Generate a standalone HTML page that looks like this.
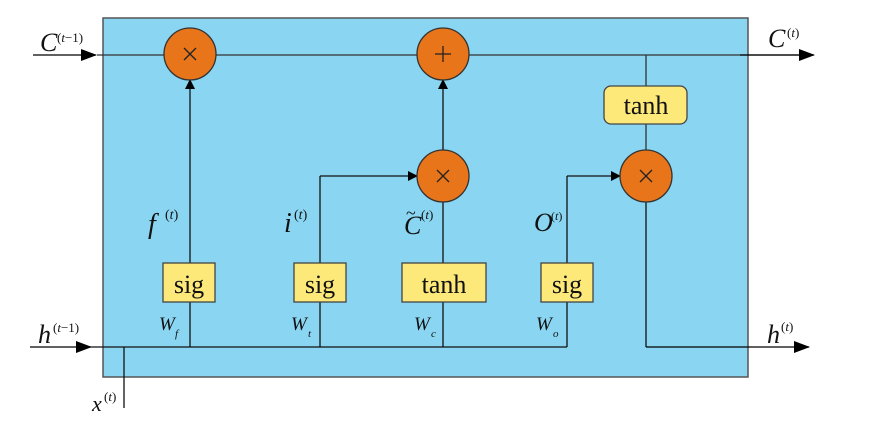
<!DOCTYPE html>
<html><head><meta charset="utf-8"><style>
html,body{margin:0;padding:0;background:#fff;}
svg{display:block;}
text{font-family:"Liberation Serif",serif;fill:#111;}
.it{font-style:italic;}
</style></head><body>
<svg width="876" height="430" viewBox="0 0 876 430" xmlns="http://www.w3.org/2000/svg">
<defs>
<marker id="a" markerWidth="10" markerHeight="10" refX="9" refY="5" orient="auto" markerUnits="userSpaceOnUse">
<path d="M0,0 L10,5 L0,10 Z" fill="#000"/></marker>
<marker id="b" markerWidth="16" markerHeight="12" refX="15" refY="6" orient="auto" markerUnits="userSpaceOnUse">
<path d="M0,0 L16,6 L0,12 Z" fill="#000"/></marker>
</defs>
<rect x="103" y="18" width="645" height="359" fill="#8AD6F2" stroke="#555" stroke-width="1.5"/>
<line x1="33" y1="55" x2="96" y2="55" stroke="#000" stroke-width="1.3" marker-end="url(#b)"/>
<line x1="97" y1="55" x2="800" y2="55" stroke="#333" stroke-width="1.3"/>
<line x1="740" y1="55" x2="814" y2="55" stroke="#000" stroke-width="1.3" marker-end="url(#b)"/>
<line x1="30" y1="347" x2="91" y2="347" stroke="#000" stroke-width="1.3" marker-end="url(#b)"/>
<line x1="91" y1="347" x2="567" y2="347" stroke="#111" stroke-width="1.3"/>
<line x1="124" y1="347" x2="124" y2="408" stroke="#111" stroke-width="1.3"/>
<line x1="190" y1="347" x2="190" y2="80" stroke="#111" stroke-width="1.3" marker-end="url(#a)"/>
<line x1="320" y1="347" x2="320" y2="176" stroke="#111" stroke-width="1.3"/>
<line x1="320" y1="176" x2="417" y2="176" stroke="#111" stroke-width="1.3" marker-end="url(#a)"/>
<line x1="443" y1="347" x2="443" y2="202" stroke="#111" stroke-width="1.3"/>
<line x1="443" y1="150" x2="443" y2="80" stroke="#111" stroke-width="1.3" marker-end="url(#a)"/>
<line x1="567" y1="347" x2="567" y2="176" stroke="#111" stroke-width="1.3"/>
<line x1="567" y1="176" x2="620" y2="176" stroke="#111" stroke-width="1.3" marker-end="url(#a)"/>
<line x1="646" y1="55" x2="646" y2="150" stroke="#333" stroke-width="1.3"/>
<line x1="646" y1="202" x2="646" y2="347" stroke="#111" stroke-width="1.3"/>
<line x1="646" y1="347" x2="809" y2="347" stroke="#000" stroke-width="1.3" marker-end="url(#b)"/>
<g fill="#E8751A" stroke="#333" stroke-width="1.3">
<circle cx="190" cy="54" r="26"/><circle cx="443" cy="54" r="26"/>
<circle cx="443" cy="176" r="26"/><circle cx="646" cy="176" r="26"/>
</g>
<g stroke="#222" stroke-width="1.3">
<path d="M184,48 L196,60 M196,48 L184,60"/>
<path d="M437,170 L449,182 M449,170 L437,182"/>
<path d="M640,170 L652,182 M652,170 L640,182"/>
<path d="M443,46 L443,62 M435,54 L451,54"/>
</g>
<g fill="#FCE97A" stroke="#444" stroke-width="1.3">
<rect x="163" y="263" width="52" height="39"/>
<rect x="294" y="263" width="52" height="39"/>
<rect x="402" y="263" width="84" height="39"/>
<rect x="541" y="263" width="52" height="39"/>
<rect x="604" y="86" width="83" height="38" rx="7"/>
</g>
<g font-size="26" text-anchor="middle">
<text x="189" y="293">sig</text><text x="320" y="293">sig</text>
<text x="444" y="293">tanh</text><text x="567" y="293">sig</text>
<text x="646" y="114">tanh</text>
</g>
<text x="40" y="51" font-size="26" class="it">C</text><text x="57" y="42" font-size="13">(<tspan class="it">t</tspan>−1)</text>
<text x="38" y="343" font-size="26" class="it">h</text><text x="53" y="332" font-size="13">(<tspan class="it">t</tspan>−1)</text>
<text x="768" y="47" font-size="26" class="it">C</text><text x="787" y="37" font-size="13">(<tspan class="it">t</tspan>)</text>
<text x="767" y="343" font-size="26" class="it">h</text><text x="781" y="331" font-size="13">(<tspan class="it">t</tspan>)</text>
<text x="92" y="411" font-size="22" class="it">x</text><text x="104" y="401" font-size="13">(<tspan class="it">t</tspan>)</text>
<text x="148" y="233" font-size="28" class="it">f</text><text x="165" y="219" font-size="14">(<tspan class="it">t</tspan>)</text>
<text x="284" y="232" font-size="28" class="it">i</text><text x="294" y="219" font-size="14">(<tspan class="it">t</tspan>)</text>
<text x="404" y="234" font-size="26" class="it">C</text><text x="406" y="219" font-size="18">~</text><text x="421" y="219" font-size="13">(<tspan class="it">t</tspan>)</text>
<text x="534" y="231" font-size="26" class="it">O</text><text x="551" y="220" font-size="12">(<tspan class="it">t</tspan>)</text>
<text x="159" y="330" font-size="19" class="it">W</text><text x="175" y="337" font-size="11" class="it">f</text>
<text x="291" y="330" font-size="19" class="it">W</text><text x="308" y="337" font-size="11" class="it">t</text>
<text x="414" y="330" font-size="19" class="it">W</text><text x="431" y="337" font-size="11" class="it">c</text>
<text x="536" y="330" font-size="19" class="it">W</text><text x="553" y="337" font-size="11" class="it">o</text>
</svg>
</body></html>
